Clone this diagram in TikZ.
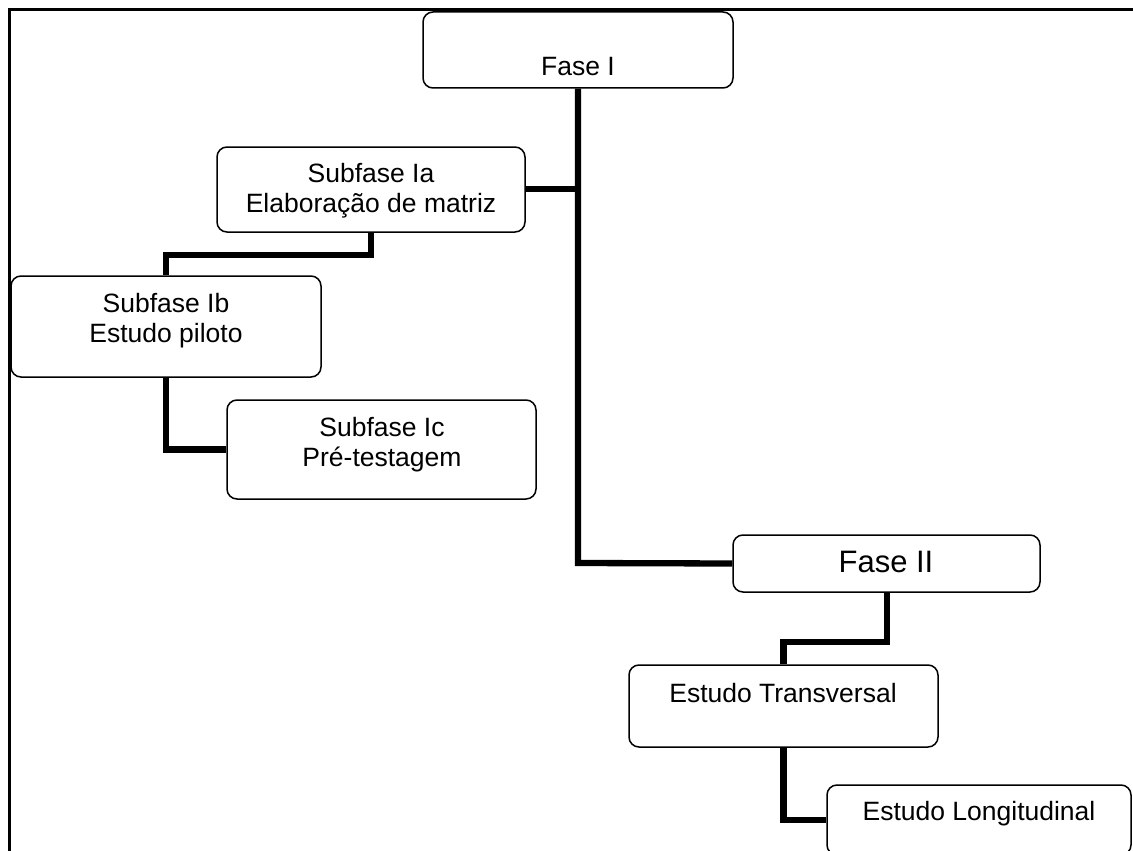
\documentclass[tikz,border=0pt]{standalone}
\usepackage{fontspec}
\setmainfont{Liberation Sans}
\begin{document}
\begin{tikzpicture}[x=1pt,y=-1pt,
  box/.style={draw=black, line width=1.5pt, rounded corners=10pt, fill=white, inner sep=0pt},
  lbl/.style={inner sep=0pt, align=center, font=\fontsize{26.5}{30}\selectfont},
  biglbl/.style={inner sep=0pt, align=center, font=\fontsize{31}{35}\selectfont},
  link/.style={line width=6.3pt, line cap=butt, line join=miter}]
\useasboundingbox (0,0) rectangle (1133,851);
\clip (0,0) rectangle (1133,851);
\fill[white] (0,0) rectangle (1133,851);
% outer frame (cut off at right and bottom)
\draw[line width=2.2pt] (9.5,860) -- (9.5,9.5) -- (1140,9.5);

% boxes
\node[box, minimum width=310pt, minimum height=76pt] (f1) at (578,50) {};
\node[box, minimum width=308pt, minimum height=85pt] (ia) at (371,189.5) {};
\node[box, minimum width=310pt, minimum height=101pt] (ib) at (166,326.5) {};
\node[box, minimum width=309pt, minimum height=99pt] (ic) at (381.5,449.5) {};
\node[box, minimum width=307pt, minimum height=57pt] (f2) at (886.5,563.5) {};
\node[box, minimum width=309pt, minimum height=82pt] (tr) at (783.5,706) {};
\node[box, minimum width=304pt, minimum height=70pt] (lo) at (979,820) {};

% texts
\node[lbl, anchor=base] (f1t) at (578,75) {Fase I};
\node[lbl, anchor=north] (iat) at (371,163) {Subfase Ia\\Elaboração de matriz};
\node[lbl, anchor=north] (ibt) at (166,293) {Subfase Ib\\Estudo piloto};
\node[lbl, anchor=north] (ict) at (382,417) {Subfase Ic\\Pré-testagem};
\node[biglbl, anchor=base] (f2t) at (886,572) {Fase II};
\node[lbl, anchor=base] (trt) at (783,702) {Estudo Transversal};
\node[lbl, anchor=base] (lot) at (979,820) {Estudo Longitudinal};

% connectors
\coordinate (j1) at (578,189);
\draw[link] (f1.south) -- (578,563) -- (f2.west);
\draw[link] (ia.east |- j1) -- (j1);
\draw[link] (ia.south) -- (371,255) -- (166,255) -- (ib.north);
\draw[link] (ib.south) -- (166,449.5) -- (ic.west);
\draw[link] (887,592) -- (887,642) -- (783.5,642) -- (tr.north);
\draw[link] (tr.south) -- (783.5,820) -- (lo.west);
\end{tikzpicture}
\end{document}
